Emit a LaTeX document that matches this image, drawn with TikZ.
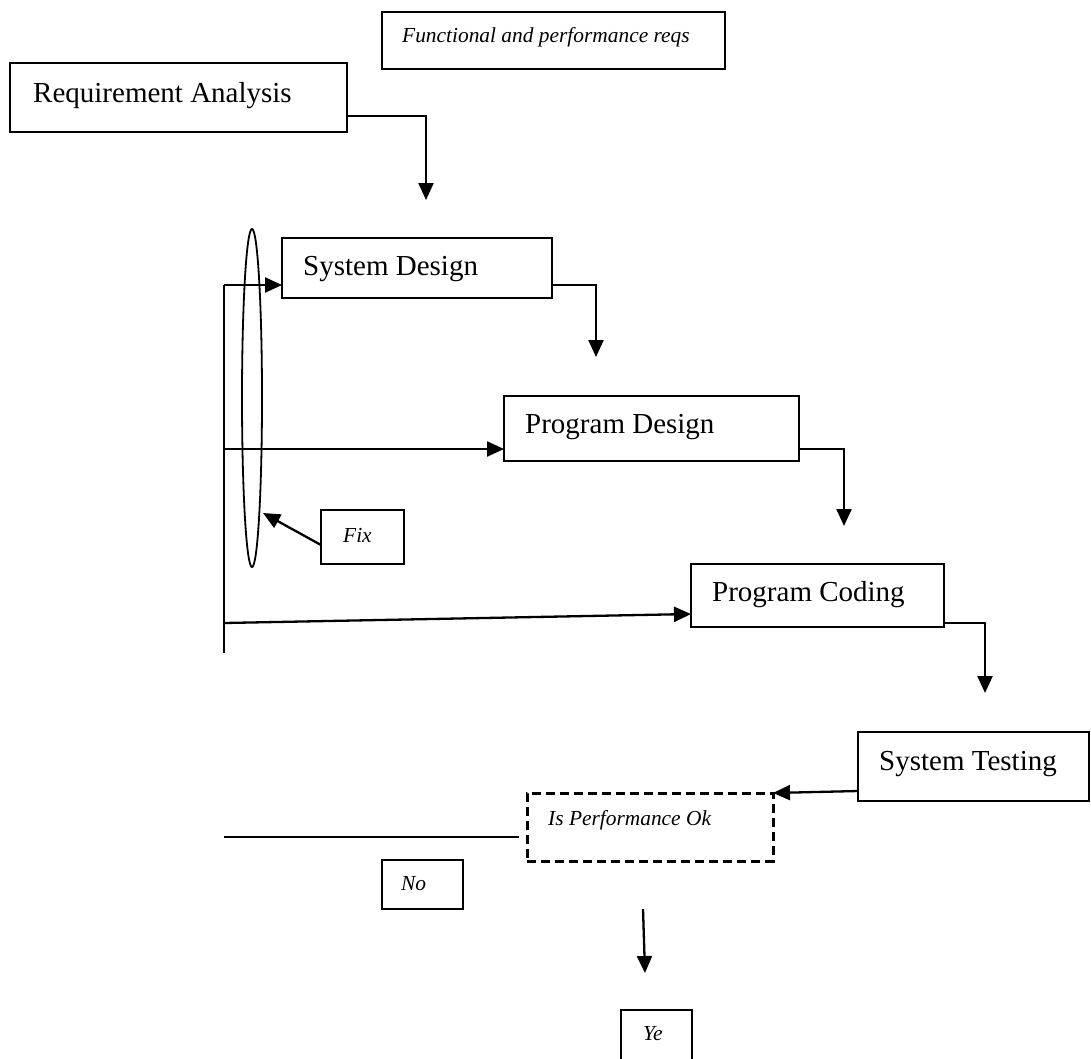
\documentclass[tikz,border=0pt]{standalone}
\usepackage{fontspec}
\setmainfont{Liberation Serif}
\usetikzlibrary{arrows.meta,shapes.geometric}
\begin{document}
\begin{tikzpicture}[x=1pt,y=-1pt,
  box/.style={draw, line width=1.8pt, rectangle, inner sep=0pt, outer sep=0pt, anchor=north west},
  dbox/.style={box, line width=3pt, dash pattern=on 9pt off 5pt},
  bigtxt/.style={anchor=base west, inner sep=0pt, font=\fontsize{29}{34}\selectfont},
  smalltxt/.style={anchor=base west, inner sep=0pt, font=\fontsize{21.4}{26}\selectfont\itshape},
  conn/.style={line width=2.3pt, -{Triangle[length=17pt,width=15pt]}},
  plainline/.style={line width=2.3pt}]
\useasboundingbox (0,0) rectangle (1091,1058);
\clip (0,0) rectangle (1091,1058);

% boxes
\node[box, minimum width=343pt, minimum height=57pt] (fr) at (382,12) {};
\node[box, minimum width=337pt, minimum height=69pt] (ra) at (10,63) {};
\node[box, minimum width=270pt, minimum height=60pt] (sd) at (282,238) {};
\node[box, minimum width=295pt, minimum height=65pt] (pd) at (504,396) {};
\node[box, minimum width=253pt, minimum height=63pt] (pc) at (691,564) {};
\node[box, minimum width=231pt, minimum height=69pt] (st) at (858,732) {};
\node[dbox, minimum width=246pt, minimum height=68pt] (dq) at (527,793) {};
\node[box, minimum width=81pt, minimum height=49pt] (no) at (382,860) {};
\node[box, minimum width=71pt, minimum height=80pt] (ye) at (621,1010) {};
\node[box, minimum width=83pt, minimum height=54pt] (fix) at (321,510) {};
\node[draw, ellipse, line width=1.8pt, inner sep=0pt, outer sep=0pt, minimum width=20pt, minimum height=338pt] (ell) at (252,398) {};

% texts
\node[smalltxt] (frt) at (402,42) {Functional and performance reqs};
\node[bigtxt] (rat) at (33,102) {Requirement Analysis};
\node[bigtxt] (sdt) at (303,275) {System Design};
\node[bigtxt] (pdt) at (525,433) {Program Design};
\node[bigtxt] (pct) at (712,601) {Program Coding};
\node[bigtxt] (stt) at (879,770) {System Testing};
\node[smalltxt] (dqt) at (548,825) {Is Performance Ok};
\node[smalltxt] (not) at (401,890) {No};
\node[smalltxt] (yet) at (643,1040) {Ye};
\node[smalltxt] (fixt) at (343,542) {Fix};

% free ends
\coordinate (e1) at (426,200);
\coordinate (e2) at (596,357);
\coordinate (e3) at (844,526);
\coordinate (e4) at (985,693);
\coordinate (b1) at (224,285);
\coordinate (b2) at (224,449);
\coordinate (b3) at (224,623);
\coordinate (bend) at (224,653);
\coordinate (fixtip) at (263,513);
\coordinate (ln) at (224,837);
\coordinate (lnend) at (519,837);
\coordinate (ys) at (643,909);
\coordinate (yend) at (645,973);

% connectors down the cascade
\draw[conn] ([yshift=16pt]ra.south east) -| (e1);
\draw[conn] ([yshift=13pt]sd.south east) -| (e2);
\draw[conn] ([yshift=12pt]pd.south east) -| (e3);
\draw[conn] ([yshift=4pt]pc.south east) -| (e4);
\draw[conn] ([yshift=10pt]st.south west) -- (dq.north east);

% feedback bus
\draw[plainline] (b1) -- (bend);
\draw[conn] (b1) -- (sd.west |- b1);
\draw[conn] (b2) -- (pd.west |- b2);
\draw[conn] (b3) -- ([yshift=13pt]pc.south west);
\draw[conn] ([yshift=19pt]fix.south west) -- (fixtip);

% performance check
\draw[plainline, line width=1.8pt] (ln) -- (lnend);
\draw[conn] (ys) -- (yend);
\end{tikzpicture}
\end{document}
